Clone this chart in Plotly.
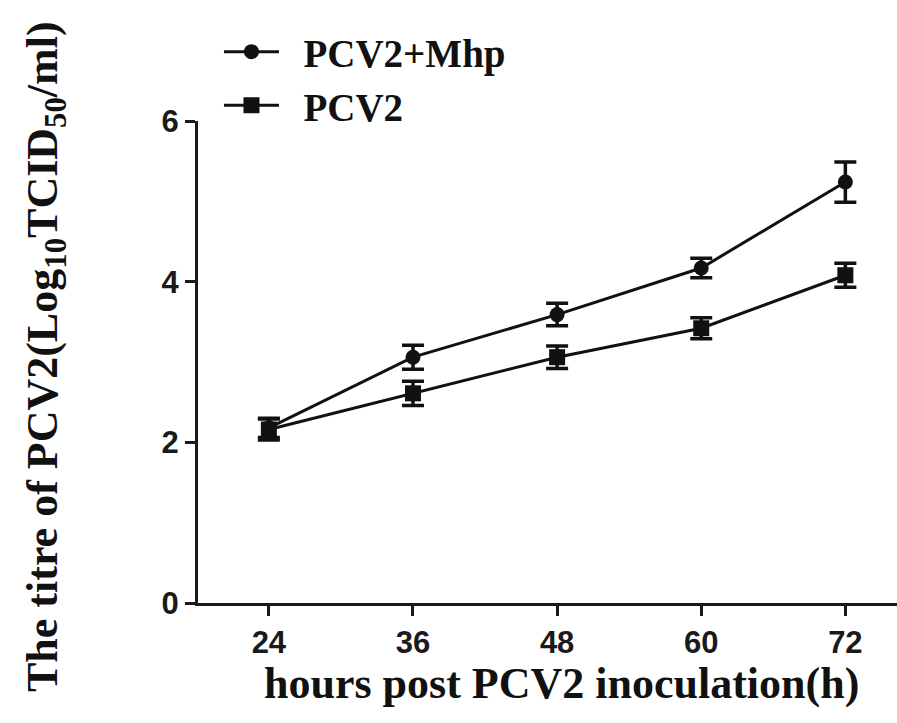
import plotly.graph_objects as go

hours = [24, 36, 48, 60, 72]
mhp_vals = [2.18, 3.06, 3.59, 4.17, 5.24]
mhp_err = [0.12, 0.15, 0.14, 0.12, 0.25]
pcv2_vals = [2.16, 2.61, 3.06, 3.42, 4.08]
pcv2_err = [0.13, 0.15, 0.14, 0.13, 0.15]
x_ticks = [24, 36, 48, 60, 72]
y_ticks = [0, 2, 4, 6]

fig = go.Figure()
fig.add_trace(go.Scatter(
    x=hours, y=mhp_vals, name="\u2002PCV2+Mhp", mode="lines+markers",
    line=dict(color="#111", width=3),
    marker=dict(symbol="circle", size=15, color="#111"),
    error_y=dict(type="data", array=mhp_err, color="#111", thickness=3.5, width=11),
))
fig.add_trace(go.Scatter(
    x=hours, y=pcv2_vals, name="\u2002PCV2", mode="lines+markers",
    line=dict(color="#111", width=3),
    marker=dict(symbol="square", size=16, color="#111"),
    error_y=dict(type="data", array=pcv2_err, color="#111", thickness=3.5, width=11),
))

tickfont = dict(family="Liberation Sans, Arial, sans-serif", size=31, color="#1a1a1a", weight="bold")
serif = "Liberation Serif, Times New Roman, serif"

fig.update_layout(
    width=897, height=723,
    margin=dict(l=198, r=0, t=121, b=120),
    plot_bgcolor="white", paper_bgcolor="white",
    showlegend=True,
    legend=dict(
        x=0.03, y=1.21, xanchor="left", yanchor="top",
        font=dict(family=serif, size=39, color="#111", weight="bold"),
        itemwidth=55, tracegroupgap=0, bgcolor="rgba(0,0,0,0)",
    ),
    xaxis=dict(
        range=[18.1, 76.3], tickvals=x_ticks, ticktext=[str(v) for v in x_ticks],
        showgrid=False, zeroline=False, showline=True, linecolor="#1a1a1a", linewidth=3,
        ticks="outside", ticklen=10, tickwidth=3, tickcolor="#1a1a1a",
        tickfont=tickfont,
    ),
    yaxis=dict(
        range=[0, 6], tickvals=y_ticks, ticktext=[str(v) for v in y_ticks],
        showgrid=False, zeroline=False, showline=True, linecolor="#1a1a1a", linewidth=3,
        ticks="outside", ticklen=10, tickwidth=3, tickcolor="#1a1a1a",
        tickfont=tickfont,
    ),
    annotations=[
        dict(text="hours post PCV2 inoculation(h)", xref="paper", yref="paper",
             x=(561 - 198) / 699, y=-(683 - 603) / 482, xanchor="center", yanchor="middle",
             showarrow=False, font=dict(family=serif, size=44, color="#111", weight="bold")),
        dict(text="The titre of PCV2(Log<sub>10</sub>TCID<sub>50</sub>/ml)", xref="paper", yref="paper",
             x=-(198 - 45) / 699, y=(603 - 357) / 482, xanchor="center", yanchor="middle",
             textangle=-90, showarrow=False,
             font=dict(family=serif, size=44, color="#111", weight="bold")),
    ],
)

fig.write_html("out.html")
